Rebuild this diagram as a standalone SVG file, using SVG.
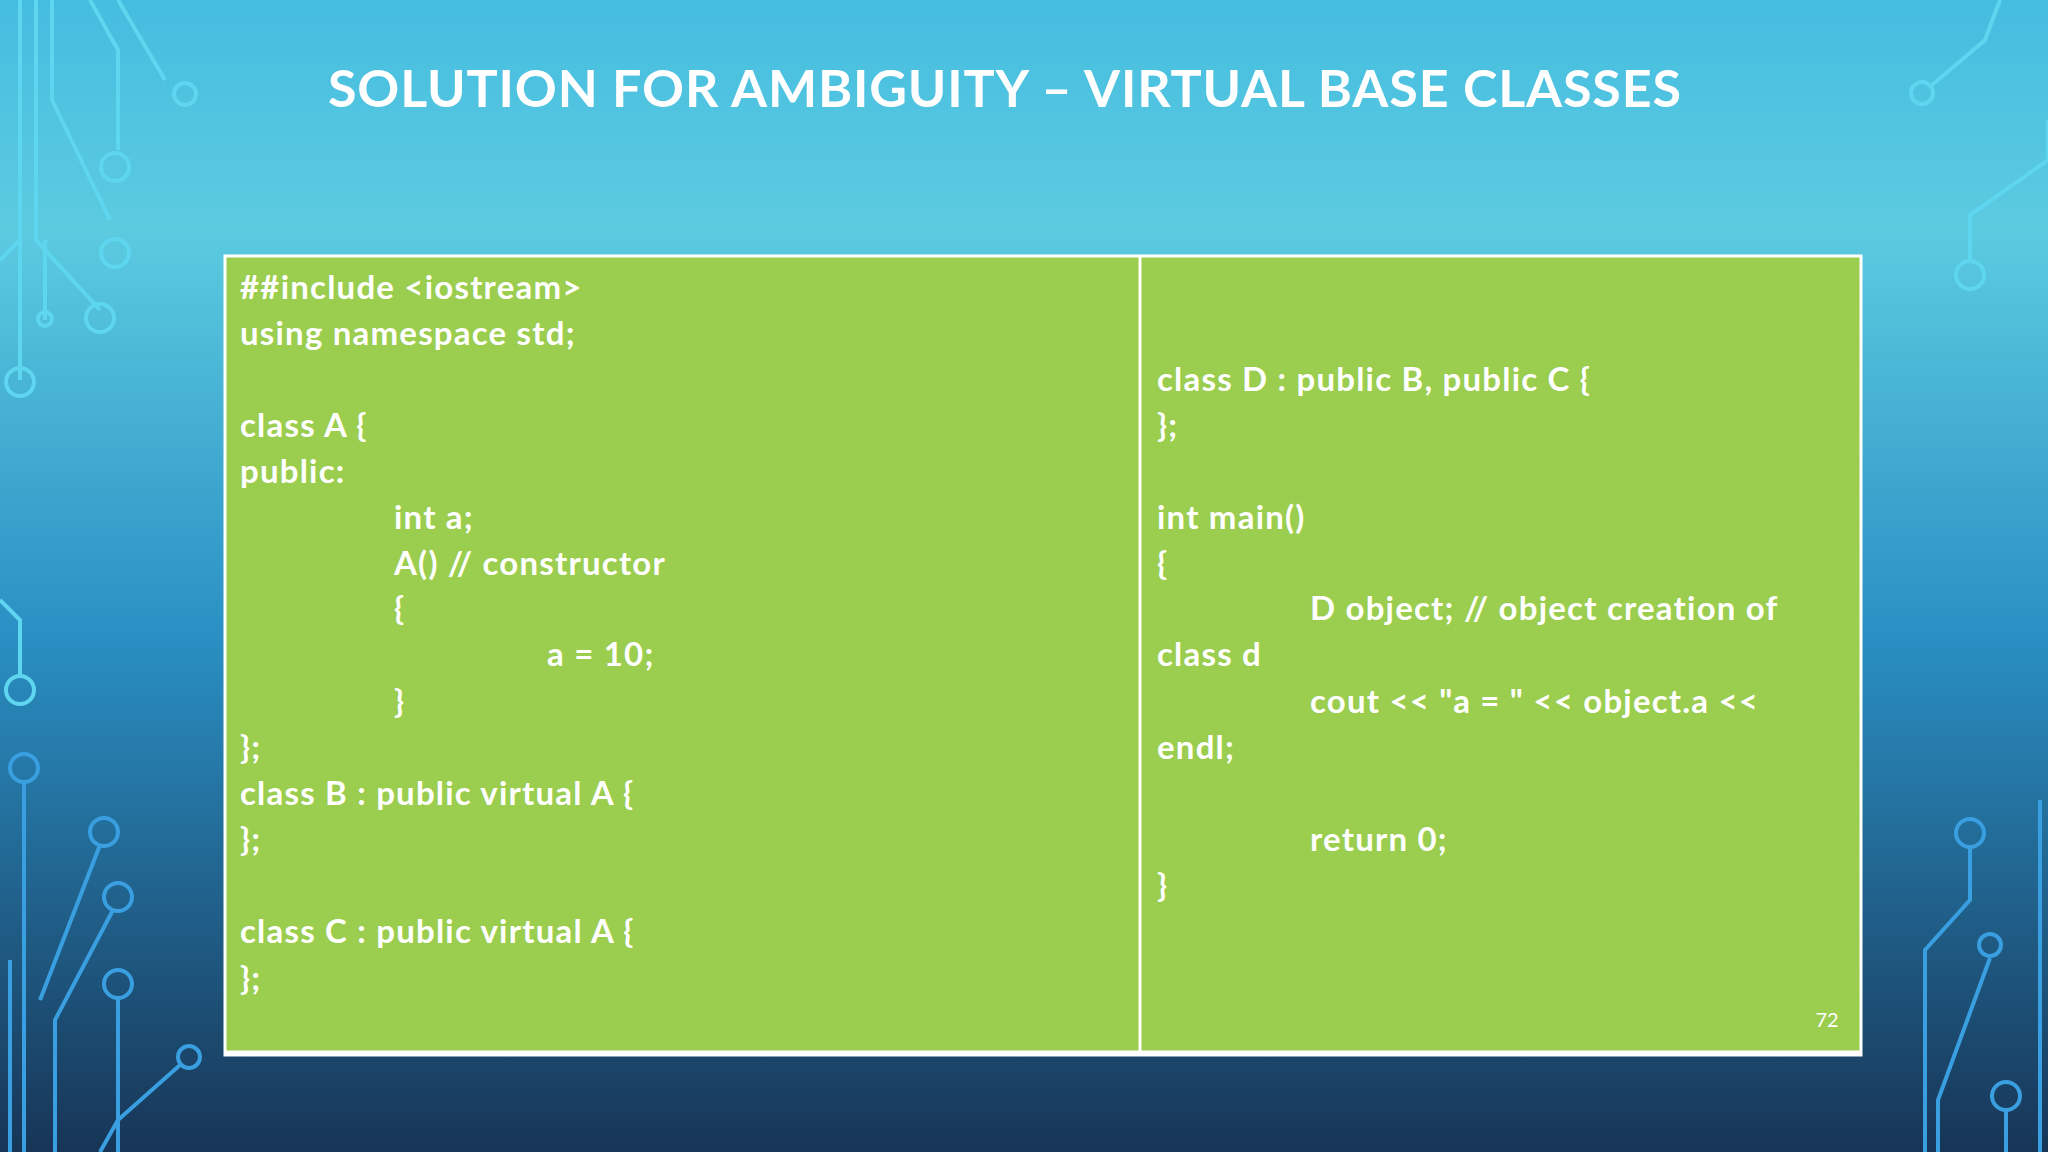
<svg xmlns="http://www.w3.org/2000/svg" width="2048" height="1152" viewBox="0 0 2048 1152">
<defs>
<linearGradient id="bg" x1="0" y1="0" x2="0" y2="1">
<stop offset="0" stop-color="#45bde0"/>
<stop offset="0.2" stop-color="#5ccbe0"/>
<stop offset="0.55" stop-color="#2a90c4"/>
<stop offset="1" stop-color="#173556"/>
</linearGradient>
<style>
.c{fill:none;stroke:#5fd6ef;stroke-width:4}
.c2{fill:none;stroke:#3a9fe0;stroke-width:4}
.t{font-family:Lato,"Liberation Sans",sans-serif;font-weight:bold;font-size:33px;letter-spacing:1.2px;fill:#ffffff}
</style>
</defs>
<rect width="2048" height="1152" fill="url(#bg)"/>
<g id="circuits">
<path class="c" d="M20 0V380M36 0V240L100 310M52 0V100L110 220M90 0L118 50V150M118 0L165 80M20 240L0 260M45 240V320"/>
<circle class="c" cx="185" cy="94" r="11"/><circle class="c" cx="115" cy="167" r="14"/><circle class="c" cx="115" cy="253" r="14"/><circle class="c" cx="100" cy="318" r="14"/><circle class="c" cx="45" cy="319" r="7"/><circle class="c" cx="20" cy="382" r="14"/>
<path class="c" d="M0 600L20 620V676"/><circle class="c" cx="20" cy="690" r="14"/>
<path class="c2" d="M24 782V1152M10 960V1152M40 1000L100 845M55 1152V1020L113 910M118 998V1152M100 1152L118 1120L180 1065"/>
<circle class="c2" cx="24" cy="768" r="14"/><circle class="c2" cx="104" cy="832" r="14"/><circle class="c2" cx="118" cy="897" r="14"/><circle class="c2" cx="118" cy="984" r="14"/><circle class="c2" cx="189" cy="1057" r="11"/>
<path class="c" d="M2000 0L1985 40L1932 85M2048 120V160L1970 215V262"/><circle class="c" cx="1922" cy="93" r="11"/><circle class="c" cx="1970" cy="275" r="14"/>
<path class="c2" d="M1970 847V900L1925 950V1152M1990 958L1938 1100V1152M2006 1152V1110M2040 800V1152"/><circle class="c2" cx="1970" cy="833" r="14"/><circle class="c2" cx="1990" cy="945" r="11"/><circle class="c2" cx="2006" cy="1096" r="14"/>
</g>
<text x="328" y="107" font-family="Lato,'Liberation Sans',sans-serif" font-weight="bold" font-size="52" fill="#ffffff" letter-spacing="1" textLength="1354">SOLUTION FOR AMBIGUITY – VIRTUAL BASE CLASSES</text>
<g id="table">
<rect x="225" y="256" width="1636" height="799" fill="#9bcd4f" stroke="#ffffff" stroke-width="3"/>
<line x1="1140" y1="256" x2="1140" y2="1055" stroke="#ffffff" stroke-width="3"/>
<line x1="225" y1="1053" x2="1861" y2="1053" stroke="#ffffff" stroke-width="5"/>
</g>
<g id="left" class="t">
<text x="240" y="299">##include &lt;iostream&gt;</text>
<text x="240" y="345">using namespace std;</text>
<text x="240" y="437">class A {</text>
<text x="240" y="483">public:</text>
<text x="394" y="529">int a;</text>
<text x="394" y="575">A() // constructor</text>
<text x="394" y="620">{</text>
<text x="547" y="666">a = 10;</text>
<text x="394" y="713">}</text>
<text x="240" y="759">};</text>
<text x="240" y="805">class B : public virtual A {</text>
<text x="240" y="851">};</text>
<text x="240" y="943">class C : public virtual A {</text>
<text x="240" y="990">};</text>
</g>
<g id="right" class="t">
<text x="1157" y="391">class D : public B, public C {</text>
<text x="1157" y="437">};</text>
<text x="1157" y="529">int main()</text>
<text x="1157" y="575">{</text>
<text x="1310" y="620">D object; // object creation of</text>
<text x="1157" y="666">class d</text>
<text x="1310" y="713">cout &lt;&lt; "a = " &lt;&lt; object.a &lt;&lt;</text>
<text x="1157" y="759">endl;</text>
<text x="1310" y="851">return 0;</text>
<text x="1157" y="897">}</text>
</g>
<text x="1827" y="1027" font-family="Lato,'Liberation Sans',sans-serif" font-size="20" fill="#ffffff" text-anchor="middle">72</text>
</svg>
